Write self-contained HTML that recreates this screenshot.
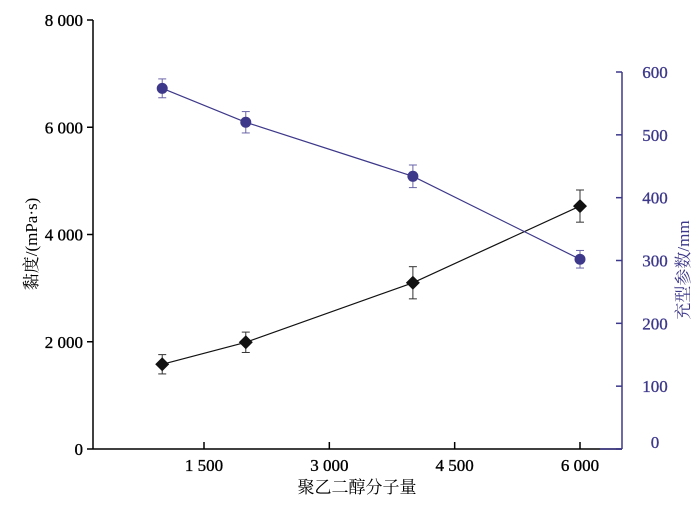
<!DOCTYPE html>
<html><head><meta charset="utf-8"><style>
html,body{margin:0;padding:0;background:#fff;width:700px;height:506px;overflow:hidden}
text{font-family:"Liberation Serif","Noto Serif CJK SC",serif;stroke-width:0.35px}
</style></head><body>
<svg id="chart" width="700" height="506" xmlns="http://www.w3.org/2000/svg"></svg>
<script>
const categories=[1000,2000,4000,6000];
const viscosity=[1580,1990,3100,4530];
const viscosityErr=[180,190,300,300];
const fillParam=[574,520,434,302];
const fillErr=[15,17,18,14];
const xTicks=[1500,3000,4500,6000];
const xTickLabels=["1 500","3 000","4 500","6 000"];
const yLeftTicks=[0,2000,4000,6000,8000];
const yLeftLabels=["0","2 000","4 000","6 000","8 000"];
const yRightTicks=[0,100,200,300,400,500,600];
const yRightLabels=["0","100","200","300","400","500","600"];
const PUR="#3d388a";
const L=93,R=622,T=20,B=449;
const xs=v=>204+(v-1500)*(580-204)/4500;
const yl=v=>B-v*(B-T)/8000;
const yr=v=>B-v*(B-72)/600;
const svg=document.getElementById('chart');
const NS="http://www.w3.org/2000/svg";
function mk(tag,attrs,parent){const e=document.createElementNS(NS,tag);for(const k in attrs)e.setAttribute(k,attrs[k]);(parent||svg).appendChild(e);return e;}
let a=mk('line',{x1:L,y1:T,x2:L,y2:B,stroke:'#000','stroke-width':1.5});


a=mk('line',{x1:L,y1:B,x2:R,y2:B,stroke:'#000','stroke-width':1.5});


a=mk('line',{x1:R,y1:72,x2:R,y2:B,stroke:PUR,'stroke-width':1.5});


mk('line',{x1:600,y1:B,x2:R,y2:B,stroke:PUR,'stroke-width':1.5});
yLeftTicks.forEach((v,i)=>{
  mk('line',{x1:L-6,y1:yl(v),x2:L,y2:yl(v),stroke:'#000','stroke-width':1.5});
  const t=mk('text',{x:L-10,y:yl(v)+6,'text-anchor':'end','font-size':17,fill:'#000',stroke:'#000'});
  t.textContent=yLeftLabels[i];
  
  
});
yRightTicks.forEach((v,i)=>{
  mk('line',{x1:R-6,y1:yr(v),x2:R,y2:yr(v),stroke:PUR,'stroke-width':1.5});
  const t=mk('text',{x:R+33,y:yr(v)+(v===0?-1:6),'text-anchor':'middle','font-size':17,fill:PUR,stroke:PUR});
  t.textContent=yRightLabels[i];
  
  
});
xTicks.forEach((v,i)=>{
  mk('line',{x1:xs(v),y1:B-7,x2:xs(v),y2:B,stroke:'#000','stroke-width':1.5});
  const t=mk('text',{x:xs(v),y:B+22,'text-anchor':'middle','font-size':17,fill:'#000',stroke:'#000'});
  t.textContent=xTickLabels[i];
  
  
});
let t=mk('text',{x:357,y:493,'text-anchor':'middle','font-size':17,fill:'#000'});
t.textContent='聚乙二醇分子量';


t=mk('text',{x:0,y:0,'text-anchor':'middle','font-size':17,fill:'#000',transform:'translate(37,244) rotate(-90)'});
t.textContent='黏度/(mPa·s)';


t=mk('text',{x:0,y:0,'text-anchor':'middle','font-size':17,fill:PUR,transform:'translate(689,270) rotate(-90)'});
t.textContent='充型参数/mm';


let p=mk('polyline',{points:categories.map((c,i)=>xs(c)+','+yl(viscosity[i])).join(' '),fill:'none',stroke:'#111','stroke-width':1.2});


p=mk('polyline',{points:categories.map((c,i)=>xs(c)+','+yr(fillParam[i])).join(' '),fill:'none',stroke:PUR,'stroke-width':1.2});


function err(x,y1,y2,col){
  mk('line',{x1:x,y1:y1,x2:x,y2:y2,stroke:col,'stroke-width':1});
  mk('line',{x1:x-4,y1:y1,x2:x+4,y2:y1,stroke:col,'stroke-width':1});
  mk('line',{x1:x-4,y1:y2,x2:x+4,y2:y2,stroke:col,'stroke-width':1});
}
categories.forEach((c,i)=>{
  const x=xs(c);
  err(x,yl(viscosity[i]-viscosityErr[i]),yl(viscosity[i]+viscosityErr[i]),'#333');
  const y=yl(viscosity[i]);
  const d=mk('polygon',{points:`${x},${y-7} ${x+7},${y} ${x},${y+7} ${x-7},${y}`,fill:'#111'});
  
  
  err(x,yr(fillParam[i]-fillErr[i]),yr(fillParam[i]+fillErr[i]),'#6a64a8');
  const cc=mk('circle',{cx:x,cy:yr(fillParam[i]),r:5.5,fill:PUR});
  
  
});
</script>
</body></html>
